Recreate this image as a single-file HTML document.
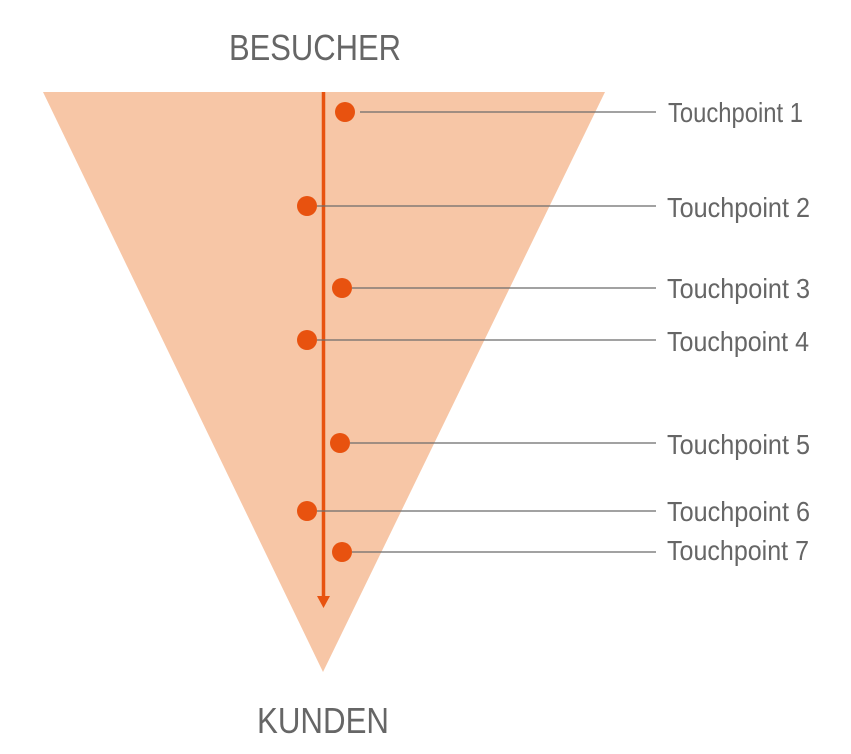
<!DOCTYPE html>
<html><head><meta charset="utf-8"><style>html,body{margin:0;padding:0;background:#fff}svg{display:block}</style></head>
<body>
<svg width="851" height="754" viewBox="0 0 851 754" xmlns="http://www.w3.org/2000/svg" font-family="Liberation Sans, sans-serif">
<polygon points="43,92 605,92 323,672" fill="#F7C6A6"/>
<line x1="323.5" y1="92" x2="323.5" y2="598" stroke="#E8520F" stroke-width="3.5"/>
<polygon points="317,596 330,596 323.5,608" fill="#E8520F"/>
<g stroke="#6b6b6b" stroke-width="1.2">
<line x1="360" y1="112" x2="656" y2="112"/>
<line x1="317" y1="206" x2="656" y2="206"/>
<line x1="352" y1="288" x2="656" y2="288"/>
<line x1="317" y1="340" x2="656" y2="340"/>
<line x1="350" y1="443" x2="656" y2="443"/>
<line x1="317" y1="511" x2="656" y2="511"/>
<line x1="352" y1="552" x2="656" y2="552"/>
</g>
<g fill="#E8520F">
<circle cx="345" cy="112" r="10"/>
<circle cx="307" cy="206" r="10"/>
<circle cx="342" cy="288" r="10"/>
<circle cx="307" cy="340" r="10"/>
<circle cx="340" cy="443" r="10"/>
<circle cx="307" cy="511" r="10"/>
<circle cx="342" cy="552" r="10"/>
</g>
<g fill="#666" font-size="28" font-weight="300">
<text x="668" y="122" textLength="135" lengthAdjust="spacingAndGlyphs">Touchpoint 1</text>
<text x="667" y="217" textLength="143" lengthAdjust="spacingAndGlyphs">Touchpoint 2</text>
<text x="667" y="298" textLength="143" lengthAdjust="spacingAndGlyphs">Touchpoint 3</text>
<text x="667" y="351" textLength="142" lengthAdjust="spacingAndGlyphs">Touchpoint 4</text>
<text x="667" y="454" textLength="143" lengthAdjust="spacingAndGlyphs">Touchpoint 5</text>
<text x="667" y="521" textLength="143" lengthAdjust="spacingAndGlyphs">Touchpoint 6</text>
<text x="667" y="560" textLength="142" lengthAdjust="spacingAndGlyphs">Touchpoint 7</text>
<text x="229" y="60" font-size="36" textLength="172" lengthAdjust="spacingAndGlyphs">BESUCHER</text>
<text x="257" y="733" font-size="36" textLength="132" lengthAdjust="spacingAndGlyphs">KUNDEN</text>
</g>
</svg>
</body></html>
